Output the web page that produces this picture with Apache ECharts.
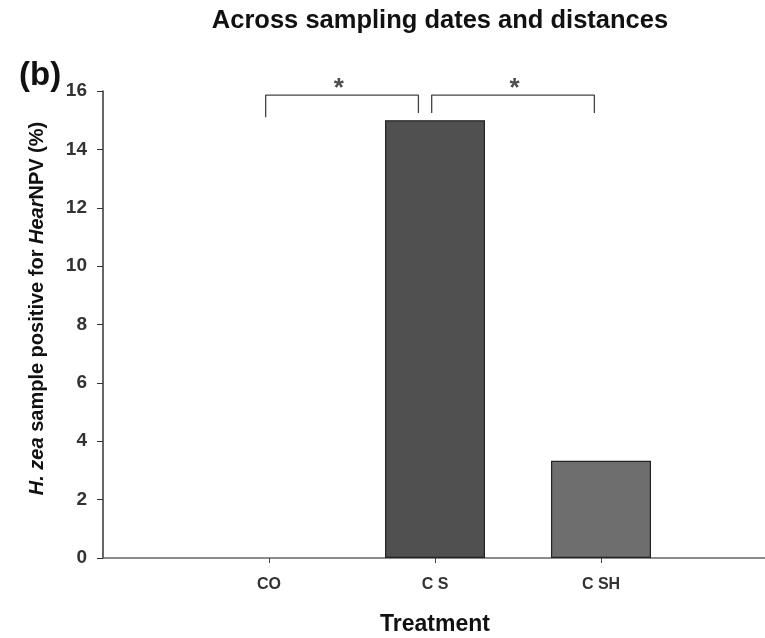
<!DOCTYPE html>
<html>
<head>
<meta charset="utf-8">
<script src="https://cdn.jsdelivr.net/npm/echarts@6/dist/echarts.min.js"></script>
<style>
  html, body { margin: 0; padding: 0; background: #fff; }
  #main { width: 765px; height: 638px; }
</style>
</head>
<body>
<div id="main"></div>
<script>
// treatments and their position on the x axis
var categories = ['CO', 'C S', 'C SH'];
var positions = [1, 2, 3];
var values = [0, 15, 3.33];
var barColors = ['#505050', '#505050', '#6e6e6e'];

// significance brackets (x, y in data units) and their stars
var bracketLeft = [[0.98, 15.1], [0.98, 15.86], [1.9, 15.86], [1.9, 15.25]];
var bracketRight = [[1.98, 15.25], [1.98, 15.86], [2.96, 15.86], [2.96, 15.25]];
var stars = [[1.42, 16.06], [2.48, 16.06]];

var myChart = echarts.init(document.getElementById('main'));

var font = 'Liberation Sans, Arial, sans-serif';

var barData = positions.map(function (p, i) {
    return {
        value: [p, values[i]],
        itemStyle: { color: barColors[i], borderWidth: values[i] > 0 ? 1.2 : 0 }
    };
});

function bracketSeries(pts) {
    return {
        type: 'line',
        data: pts,
        symbol: 'none',
        clip: false,
        silent: true,
        lineStyle: { color: '#444', width: 1.3 }
    };
}

var option = {
    animation: false,
    title: {
        text: 'Across sampling dates and distances',
        left: 435,
        textAlign: 'center',
        top: 3,
        textStyle: { fontFamily: font, fontSize: 25.5, fontWeight: 'bold', color: '#111' }
    },
    graphic: [{
        type: 'text',
        left: 19,
        top: 59,
        style: { text: '(b)', font: 'bold 33px ' + font, fill: '#111' }
    }],
    grid: { left: 103, top: 91, width: 664, bottom: 80, outerBoundsMode: 'none' },
    xAxis: {
        type: 'value',
        min: 0,
        max: 4,
        interval: 1,
        name: 'Treatment',
        nameLocation: 'middle',
        nameGap: 55,
        nameTextStyle: { fontFamily: font, fontSize: 23, fontWeight: 'bold', color: '#111' },
        splitLine: { show: false },
        axisLine: { lineStyle: { color: '#666', width: 1.5 } },
        axisTick: { customValues: positions, length: 5, lineStyle: { color: '#444' } },
        axisLabel: {
            customValues: positions,
            margin: 19,
            fontFamily: font,
            fontSize: 16,
            fontWeight: 'bold',
            color: '#333',
            formatter: function (v) {
                var i = positions.indexOf(v);
                return i >= 0 ? categories[i] : '';
            }
        }
    },
    yAxis: {
        type: 'value',
        min: 0,
        max: 16,
        interval: 2,
        name: '{i|H. zea} sample positive for {i|Hear}NPV (%)',
        nameLocation: 'middle',
        nameGap: 56,
        nameTextStyle: {
            fontFamily: font,
            fontSize: 20,
            fontWeight: 'bold',
            color: '#111',
            padding: [0, 0, 0, 32],
            rich: {
                i: { fontFamily: font, fontSize: 20, fontWeight: 'bold', fontStyle: 'italic', color: '#111' }
            }
        },
        splitLine: { show: false },
        axisLine: { show: true, lineStyle: { color: '#333', width: 1.5 } },
        axisTick: { show: true, length: 6, lineStyle: { color: '#333' } },
        axisLabel: { margin: 16, fontFamily: font, fontSize: 19, fontWeight: 'bold', color: '#333' }
    },
    series: [
        {
            type: 'bar',
            data: barData,
            barWidth: 100,
            itemStyle: { borderColor: '#222' }
        },
        bracketSeries(bracketLeft),
        bracketSeries(bracketRight),
        {
            type: 'scatter',
            data: stars,
            symbolSize: 1,
            itemStyle: { color: 'rgba(0,0,0,0)' },
            clip: false,
            silent: true,
            label: {
                show: true,
                position: 'inside',
                formatter: '*',
                fontFamily: font,
                fontSize: 26,
                fontWeight: 'bold',
                color: '#222'
            }
        }
    ]
};

myChart.setOption(option);
</script>
</body>
</html>
